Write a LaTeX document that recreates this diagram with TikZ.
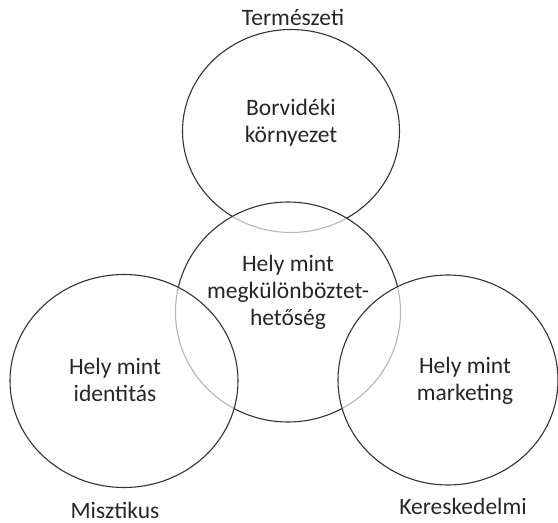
\documentclass[tikz,border=0pt]{standalone}
\usepackage{fontspec}
\setmainfont{Carlito}
\usetikzlibrary{shapes.geometric}

\begin{document}
\begin{tikzpicture}[
  x=1pt, y=-1pt,
  venn/.style={draw=black!80, line width=1.1pt, ellipse, fill=white, fill opacity=0.65},
  lbl/.style={align=center, text=black!85, font=\fontsize{23.5}{27}\selectfont}
  ]
  \useasboundingbox (0,0) rectangle (558,523);
  \node[venn, minimum width=217pt, minimum height=203pt] (top) at (291,131) {};
  \node[venn, minimum width=225pt, minimum height=220pt] (mid) at (288,312) {};
  \node[venn, minimum width=228pt, minimum height=213pt] (left) at (124,381) {};
  \node[venn, minimum width=220pt, minimum height=210pt] (right) at (448,380) {};

  \node[lbl] (toptext) at (291,123) {Borvidéki\\környezet};
  \node[lbl] (midtext) at (288,292) {Hely mint\\megkülönböztet-\\hetőség};
  \node[lbl] (lefttext) at (115,380) {Hely mint\\identitás};
  \node[lbl] (righttext) at (465,381) {Hely mint\\marketing};

  \node[lbl] (natural) at (293,17) {Természeti};
  \node[lbl] (mystic) at (115,510) {Misztikus};
  \node[lbl] (trade) at (463,506) {Kereskedelmi};
\end{tikzpicture}
\end{document}
